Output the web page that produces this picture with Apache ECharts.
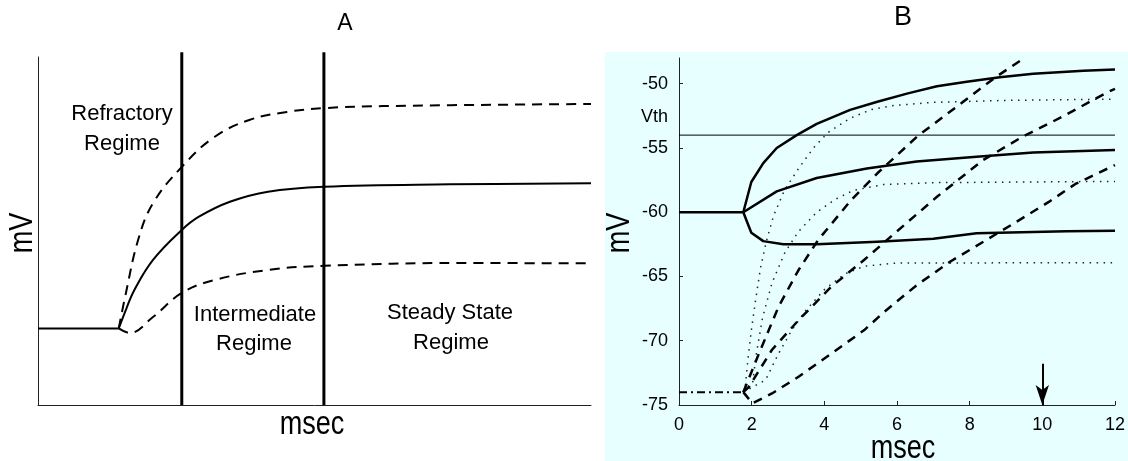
<!DOCTYPE html>
<html>
<head>
<meta charset="utf-8">
<script src="https://cdn.jsdelivr.net/npm/echarts@6/dist/echarts.min.js"></script>
<style>
html,body{margin:0;padding:0;background:#fff;}
#chart{width:1128px;height:461px;}
</style>
</head>
<body>
<div id="chart"></div>
<script>
// ---------- Panel A (schematic, arbitrary units 0-100) ----------
const aBase = [[0,22.0],[14.6,22.0]];
const aSolid = [[14.6,22.0],[16.0,27.8],[17.4,33.0],[20.8,41.7],[26.0,50.3],[29.1,54.1],[34.7,58.4],[41.6,61.3],[51.7,62.7],[74.5,63.4],[100,63.7]];
const aUpperDash = [[14.6,22.0],[15.9,32.2],[18.1,47.4],[20.8,58.0],[26.0,68.4],[31.9,77.0],[38.2,81.9],[45.0,84.2],[51.7,85.3],[62.4,85.9],[100,86.5]];
const aLowerDash = [[14.6,22.0],[16.6,20.7],[20.8,25.3],[26.0,32.2],[31.9,35.9],[41.6,38.8],[51.7,40.0],[76.3,40.8],[100,40.7]];
const aRegimeBounds = [26.0, 51.7];
const aBoundTop = 101.4;

// ---------- Panel B (msec, mV) ----------
const bTicksX = [0,2,4,6,8,10,12];
const bTicksY = [-75,-70,-65,-60,-55,-50];
const vth = -54;
const vthLabelPos = -52.6;
const bSolidBase = [[0,-60],[1.77,-60]];
const bSolidTop = [[1.77,-60],[1.99,-57.65],[2.32,-56.18],[2.69,-55.0],[3.24,-54.0],[3.79,-53.13],[4.71,-52.04],[5.46,-51.4],[6.3,-50.75],[7.1,-50.2],[7.92,-49.85],[8.83,-49.5],[9.75,-49.22],[11.13,-49.0],[12,-48.9]];
const bSolidMid = [[1.77,-60],[2.69,-58.38],[3.79,-57.34],[5.17,-56.6],[6.54,-56.05],[8.19,-55.68],[9.75,-55.35],[12,-55.16]];
const bSolidLow = [[1.77,-60],[1.99,-61.6],[2.32,-62.25],[2.87,-62.5],[3.79,-62.5],[5.46,-62.3],[7.0,-62.07],[8.19,-61.64],[10.67,-61.48],[12,-61.44]];
const bDotTop = [[1.77,-74],[1.83,-73.4],[1.9,-71.4],[1.99,-69.2],[2.11,-66.8],[2.24,-64.4],[2.4,-62.3],[2.6,-60.3],[2.9,-58.3],[3.29,-56.6],[3.7,-55.0],[4.1,-53.8],[4.7,-52.7],[5.3,-52.0],[5.9,-51.7],[7,-51.45],[9,-51.3],[12,-51.2]];
const bDotMid = [[1.77,-74],[2.02,-73.4],[2.13,-71],[2.3,-68.2],[2.56,-65.5],[2.92,-63.1],[3.29,-61.5],[3.79,-60.0],[4.3,-59.0],[4.8,-58.3],[5.62,-57.85],[7,-57.7],[12,-57.6]];
const bDotLow = [[1.77,-74],[2.38,-73.06],[2.74,-71],[3.1,-69.2],[3.47,-67.7],[4.01,-66.0],[4.56,-64.8],[5.1,-64.2],[6,-63.95],[12,-63.93]];
const bDashA = [[1.77,-74],[2.2,-71],[2.74,-67.35],[3.29,-64.5],[3.83,-62.16],[4.74,-59.05],[5.46,-56.97],[6.55,-54.12],[7.64,-51.79],[8.73,-49.46],[9.4,-48.2]];
const bDashB = [[1.77,-74],[1.92,-73.6],[2.56,-70.7],[3.29,-68.4],[4.19,-65.8],[5.1,-63.7],[5.83,-61.9],[7.1,-58.8],[8.37,-55.94],[9.46,-54.12],[10.55,-52.57],[11.82,-50.62],[12,-50.4]];
const bDashC = [[1.77,-74],[2.02,-74.87],[2.56,-74.1],[3.29,-72.8],[4.19,-71],[5.1,-69.17],[5.65,-67.75],[6.55,-65.66],[7.46,-63.85],[8.46,-62.16],[9.28,-60.76],[10.19,-59.18],[10.91,-57.8],[12,-56.33]];
const bDashDotBase = [[0,-74],[1.77,-74]];
const arrowAt = [10, -71.8, -75];

const FONT = '"Liberation Sans", Arial, sans-serif';
const AX = '#222';

const chart = echarts.init(document.getElementById('chart'), null, {renderer:'canvas'});

function line(data, xi, style, extra) {
  return Object.assign({
    type:'line', xAxisIndex:xi, yAxisIndex:xi, data:data, showSymbol:false, symbol:'none',
    smooth:false, animation:false, silent:true,
    lineStyle:Object.assign({color:'#000', join:'round'}, style)
  }, extra||{});
}

const series = [
  line(aBase, 0, {width:2}),
  line(aSolid, 0, {width:2}, {smooth:0.4}),
  line(aUpperDash, 0, {width:2, type:[10,7]}, {smooth:0.4}),
  line(aLowerDash, 0, {width:2, type:[10,7]}, {smooth:0.4}),
];
aRegimeBounds.forEach(x => series.push(line([[x,0],[x,aBoundTop]], 0, {width:3}, {clip:false})));

series.push(line([[0,vth],[12,vth]], 1, {width:1}));
[bDotTop,bDotMid,bDotLow].forEach(d => series.push(line(d, 1, {width:1.5, type:[1.5,5.5], color:'#222'})));
[bDashA,bDashB,bDashC].forEach(d => series.push(line(d, 1, {width:2.5, type:[9,7]})));
series.push(line(bDashDotBase, 1, {width:2, type:[8,4,2,4]}));
[bSolidBase,bSolidTop,bSolidMid,bSolidLow].forEach(d => series.push(line(d, 1, {width:2.5})));
series[series.length-1].markLine = {
  silent:true, animation:false, symbol:['none','arrow'], symbolSize:[10,20],
  label:{show:false},
  lineStyle:{color:'#000', width:2, type:'solid'},
  data:[[{coord:[arrowAt[0],arrowAt[1]]},{coord:[arrowAt[0],arrowAt[2]]}]]
};

function txt(t, x, y, size, extra) {
  return Object.assign({type:'text', x:x, y:y,
    style:{text:t, font:size+'px '+FONT, fill:'#000', align:'center', verticalAlign:'middle'}}, extra||{});
}

const option = {
  animation:false,
  graphic:[
    {type:'rect', z:-10, shape:{x:605,y:52,width:523,height:409}, style:{fill:'#e8ffff'}},
    txt('A', 345, 24, 23),
    txt('B', 903, 18, 27),
    txt('Refractory', 122, 113.5, 22),
    txt('Regime', 122, 143.5, 22),
    txt('Intermediate', 255, 315, 22),
    txt('Regime', 254, 344, 22),
    txt('Steady State', 450, 313, 22),
    txt('Regime', 451, 343, 22),
    txt('msec', 312, 425, 33, {scaleX:0.82}),
    txt('msec', 903, 449, 33, {scaleX:0.82}),
    txt('mV', 23, 233, 33, {rotation:Math.PI/2, scaleX:0.82}),
    txt('mV', 620, 233, 33, {rotation:Math.PI/2, scaleX:0.82})
  ],
  grid:[
    {left:38, top:57, width:553, height:348},
    {left:679, top:58, width:441, height:347}
  ],
  xAxis:[
    {type:'value', gridIndex:0, min:0, max:100, axisLine:{lineStyle:{color:AX,width:1}}, axisTick:{show:false}, axisLabel:{show:false}, splitLine:{show:false}},
    {type:'value', gridIndex:1, min:0, max:12, interval:2,
     axisLine:{onZero:false, lineStyle:{color:AX,width:1}},
     axisTick:{inside:true, length:4, lineStyle:{color:AX}, customValues:bTicksX},
     axisLabel:{customValues:bTicksX, color:'#000', fontSize:18, fontFamily:FONT, margin:11, alignMaxLabel:'center', alignMinLabel:'center'},
     splitLine:{show:false}}
  ],
  yAxis:[
    {type:'value', gridIndex:0, min:0, max:100, axisLine:{show:true, lineStyle:{color:AX,width:1}}, axisTick:{show:false}, axisLabel:{show:false}, splitLine:{show:false}},
    {type:'value', gridIndex:1, min:-75, max:-48, interval:5,
     axisLine:{show:true, onZero:false, lineStyle:{color:AX,width:1}},
     axisTick:{show:true, inside:true, length:4, lineStyle:{color:AX}, customValues:bTicksY},
     axisLabel:{customValues:bTicksY.concat([vthLabelPos]), color:'#000', fontSize:18, fontFamily:FONT, margin:11,
       formatter:function(v){ return bTicksY.indexOf(v) >= 0 ? String(v) : 'Vth'; }},
     splitLine:{show:false}}
  ],
  series:series
};
chart.setOption(option);
</script>
</body>
</html>
